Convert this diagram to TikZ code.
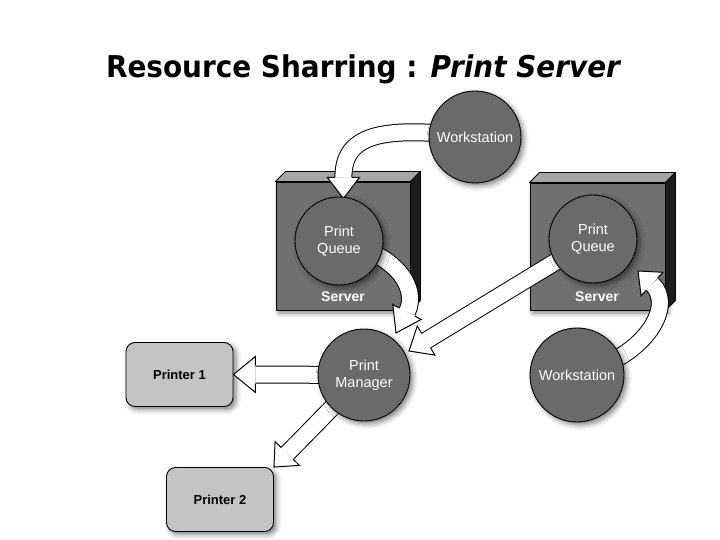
\documentclass[tikz,border=0pt]{standalone}
\usepackage{fontspec}
\setmainfont{Liberation Sans}
\newfontfamily\titlefont{DejaVu Sans}
\usetikzlibrary{calc,shadows.blur}
\definecolor{circgray}{HTML}{6A6A6A}
\definecolor{frontgray}{HTML}{707070}
\definecolor{topgray}{HTML}{A6A6A6}
\definecolor{sidegray}{HTML}{1C1C1C}
\definecolor{prgray}{HTML}{C4C4C4}
\newcommand\bhead[4]{%
  \fill[white] ($(#1)!#4!90:(#2)$) -- (#2) -- ($(#1)!#4!-90:(#2)$) -- cycle;
  \draw[line width=1pt, line join=miter] ($(#1)!#3!90:(#2)$) -- ($(#1)!#4!90:(#2)$) -- (#2) -- ($(#1)!#4!-90:(#2)$) -- ($(#1)!#3!-90:(#2)$);
}
\begin{document}
\begin{tikzpicture}[x=1pt,y=-1pt,
  softshadow/.style={blur shadow={shadow xshift=3pt, shadow yshift=-3pt, shadow blur radius=5pt, shadow opacity=50}},
  ball/.style={circle, draw=black, line width=0.9pt, fill=circgray, minimum size=#1, inner sep=0pt,
    text=white, align=center, font=\fontsize{14.5}{17.5}\selectfont, softshadow},
  boxfront/.style={rectangle, draw=black, line width=0.9pt, fill=frontgray, inner sep=0pt, softshadow},
  boxface/.style={draw=black, line width=0.9pt, line join=round},
  srvlabel/.style={text=white, font=\bfseries\fontsize{14}{16}\selectfont},
  printer/.style={rectangle, rounded corners=9pt, draw=black, line width=0.9pt, fill=prgray,
    minimum width=107pt, minimum height=64pt, inner sep=0pt, font=\bfseries\fontsize{13}{15}\selectfont, softshadow},
  shaft/.style={draw=black, line width=1pt, double=white, double distance=16pt}
]
\useasboundingbox (0,0) rectangle (720,540);

% title
\node[anchor=base, font=\titlefont\bfseries\fontsize{30}{34}\selectfont, inner sep=0pt] (title) at (363,78)
  {\scalebox{0.93}[1]{Resource Sharring : \itshape Print Server}};

% server boxes
\node[boxfront, minimum width=134pt, minimum height=128pt] (box1) at (343,246) {};
\draw[boxface, fill=topgray] (box1.north west) -- ++(10,-10) -- ($(box1.north east)+(10,-10)$) -- (box1.north east) -- cycle;
\draw[boxface, fill=sidegray] (box1.north east) -- ++(10,-10) -- ($(box1.south east)+(10,-10)$) -- (box1.south east) -- cycle;
\node[boxfront, minimum width=135pt, minimum height=127pt] (box2) at (597.5,246.5) {};
\draw[boxface, fill=topgray] (box2.north west) -- ++(10,-10) -- ($(box2.north east)+(10,-10)$) -- (box2.north east) -- cycle;
\draw[boxface, fill=sidegray] (box2.north east) -- ++(10,-10) -- ($(box2.south east)+(10,-10)$) -- (box2.south east) -- cycle;
\node[srvlabel] (srv1) at (343,297) {Server};
\node[srvlabel] (srv2) at (597,297) {Server};

% circle positions (drawn later, coordinates needed for arrows)
\path (475,137) coordinate (ws1c) (339,241) coordinate (pq1c) (593,239) coordinate (pq2c)
      (577,375) coordinate (ws2c) (364,375) coordinate (pmc);

% printers
\node[printer] (p1) at (179.5,374.5) {Printer 1};
\node[printer] (p2) at (220,499.5) {Printer 2};

% arrow tips and bases
\coordinate (t1) at (343.4,198.5);
\coordinate (b1) at ($(t1)+(0,-21)$);
\coordinate (t2) at (396,333);
\coordinate (b2) at (407,312);
\coordinate (t3) at (409,351);
\coordinate (b3) at ($(t3)!20pt!(pq2c)$);
\coordinate (t4) at (638,271);
\coordinate (b4) at (652,284);
\coordinate (b5) at ($(p1.east)+(22,0)$);
\coordinate (b6) at ($(p2.north east)!19pt!(pmc)$);

% arrows
\draw[shaft] (ws1c) .. controls (380,125) and (343.4,135) .. (b1);
\bhead{b1}{t1}{8.5pt}{16pt}
\draw[shaft] (pq1c) .. controls (400,255) and (418,290) .. (b2);
\bhead{b2}{t2}{8.5pt}{16pt}
\draw[shaft] (pq2c) -- (b3);
\bhead{b3}{t3}{8.5pt}{17pt}
\draw[shaft] (ws2c) .. controls (650,355) and (674,304) .. (b4);
\bhead{b4}{t4}{8.5pt}{16pt}
\draw[shaft] (pmc) -- (b5);
\bhead{b5}{p1.east}{9pt}{18pt}
\draw[shaft] (pmc) -- (b6);
\bhead{b6}{p2.north east}{8.5pt}{17pt}

% circles
\node[ball=92pt] (ws1) at (ws1c) {Workstation};
\node[ball=88pt] (pq1) at (pq1c) {Print\\Queue};
\node[ball=88pt] (pq2) at (pq2c) {Print\\Queue};
\node[ball=94pt] (ws2) at (ws2c) {Workstation};
\node[ball=92pt] (pm) at (pmc) {Print\\Manager};
\end{tikzpicture}
\end{document}
